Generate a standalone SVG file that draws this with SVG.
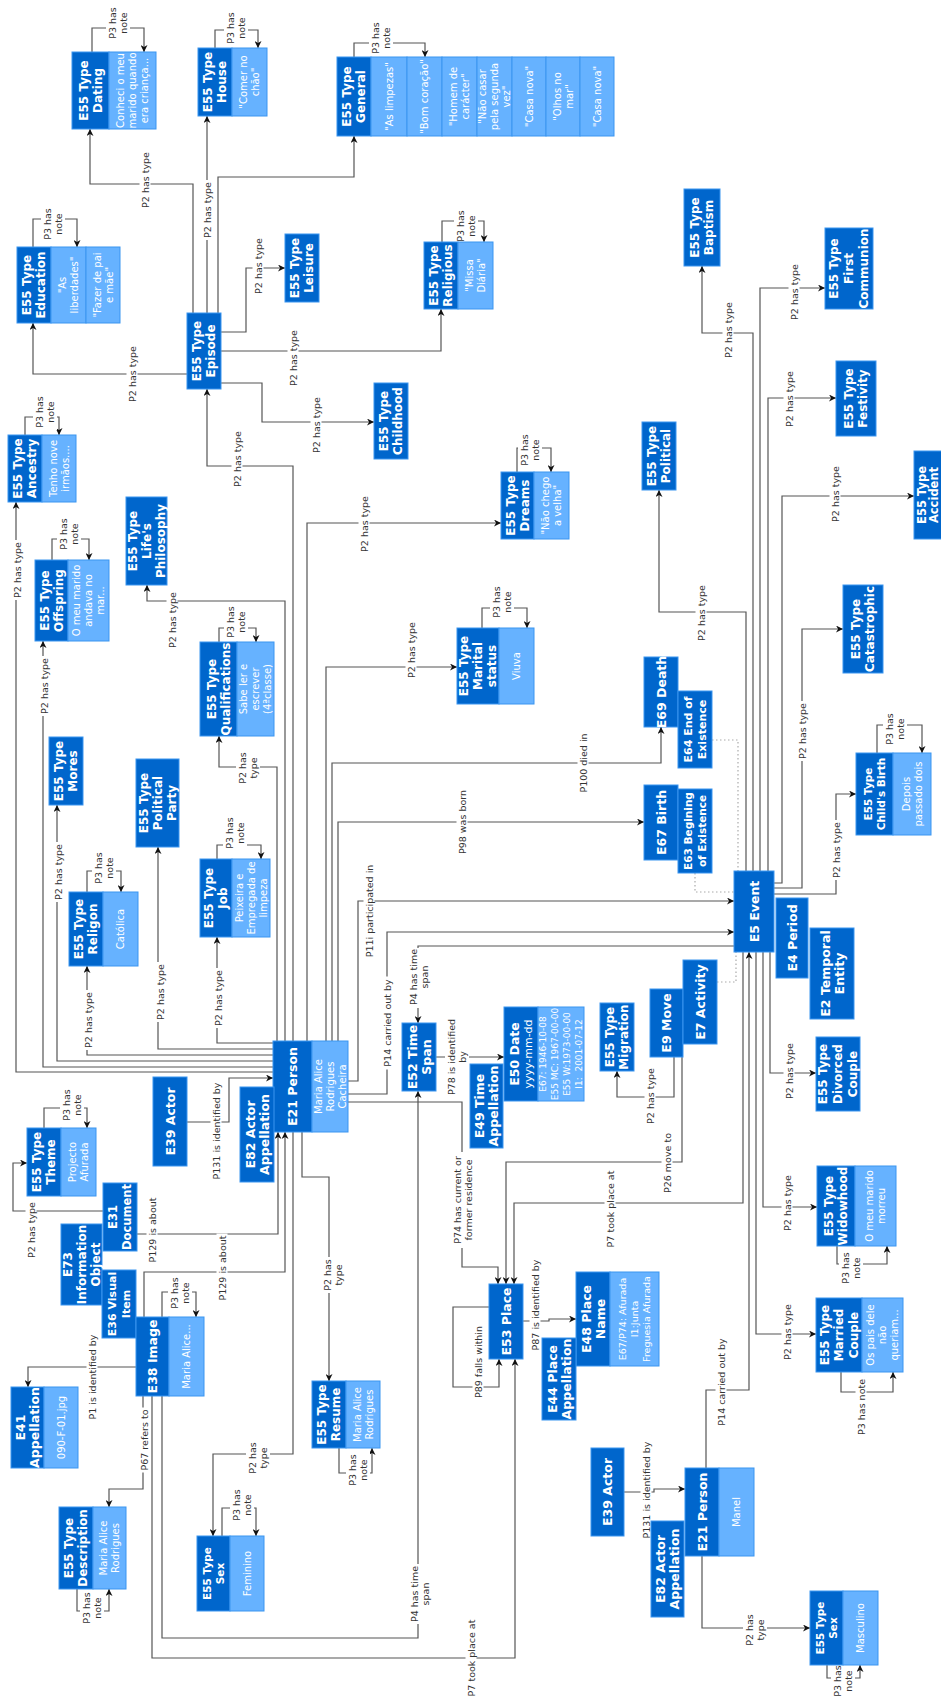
<svg xmlns="http://www.w3.org/2000/svg" width="941" height="1699" viewBox="0 0 941 1699">
<defs>
<marker id="a" viewBox="0 0 10 10" refX="10" refY="5" markerWidth="7" markerHeight="7" orient="auto" markerUnits="userSpaceOnUse"><path d="M0,0 L10,5 L0,10 L3,5 z" fill="#111"/></marker>
<style>
.d{fill:#0066cc;stroke:#3b95f0;stroke-width:1}
.n{fill:#66b2ff;stroke:#3b95f0;stroke-width:1}
text{font-family:"DejaVu Sans","Liberation Sans",sans-serif;text-anchor:middle;dominant-baseline:central}
.t{font-weight:bold;font-size:12px;fill:#fff}
.tb{font-weight:bold;font-size:12.5px;fill:#fff}
.ts{font-weight:bold;font-size:10.5px;fill:#fff}
.tm{font-weight:bold;font-size:11px;fill:#fff}
.tx{font-weight:bold;font-size:11.5px;fill:#fff}
.v{font-size:10px;fill:#fff}
.v11{font-size:11px;fill:#fff}
.vs{font-size:9px;fill:#fff}
.vm{font-size:9.5px;fill:#fff}
.e{fill:none;stroke:#555;stroke-width:1.2;marker-end:url(#a)}
.dt{fill:none;stroke:#aaa;stroke-width:1.2;stroke-dasharray:1.5 2.5}
.lb{fill:#fff}
.l{font-size:9.5px;fill:#333}
</style>
</defs>
<rect width="941" height="1699" fill="#fff"/>
<g id="connectors">
<path class="e" d="M92 52 V28 H144 V52"/>
<path class="e" d="M215 48 V30 H258 V48"/>
<path class="e" d="M33 247 V219 H77 V247"/>
<path class="e" d="M354 57 V43 H425 V57"/>
<path class="e" d="M442 242 V221 H484 V242"/>
<path class="e" d="M877 753 V725 H922 V753"/>
<path class="e" d="M837 1246 V1264 H887 V1246"/>
<path class="e" d="M44 1128 V1108 H87 V1128"/>
<path class="e" d="M162 1317 V1292 H196 V1317"/>
<path class="e" d="M77 1589 V1611 H109 V1589"/>
<path class="e" d="M222 1536 V1508 H256 V1536"/>
<path class="e" d="M339 1448 V1473 H372 V1448"/>
<path class="e" d="M827 1665 V1678 H860 V1665"/>
<path class="e" d="M841 1372 V1392 H893 V1372"/>
<path class="e" d="M482 628 V608 H527 V628"/>
<path class="e" d="M517 472 V448 H551 V472"/>
<path class="e" d="M25 435 V417 H59 V435"/>
<path class="e" d="M52 560 V539 H89 V560"/>
<path class="e" d="M219 642 V628 H256 V642"/>
<path class="e" d="M87 892 V871 H121 V892"/>
<path class="e" d="M217 859 V845 H261 V859"/>
<path class="e" d="M187 374 H33 V323"/>
<path class="e" d="M193 313 V184 H90 V129"/>
<path class="e" d="M207 313 V116"/>
<path class="e" d="M218 313 V177 H354 V136"/>
<path class="e" d="M221 332 H246 V268 H285"/>
<path class="e" d="M221 351 H441 V309"/>
<path class="e" d="M221 383 H262 V422 H374"/>
<path class="e" d="M293 1041 V466 H207 V389"/>
<path class="e" d="M277 1041 V767 H219 V736"/>
<path class="e" d="M285 1041 V601 H147 V585"/>
<path class="e" d="M307 1041 V523 H501"/>
<path class="e" d="M326 1041 V667 H457"/>
<path class="e" d="M332 1041 V763 H661 V727"/>
<path class="e" d="M338 1041 V822 H644"/>
<path class="e" d="M273 1043 H217 V937"/>
<path class="e" d="M273 1049 H158 V847"/>
<path class="e" d="M273 1055 H87 V966"/>
<path class="e" d="M273 1061 H57 V805"/>
<path class="e" d="M273 1067 H43 V641"/>
<path class="e" d="M273 1072 H16 V502"/>
<path class="e" d="M187 1122 H229 V1078 H273"/>
<path class="e" d="M137 1234 H278 V1132"/>
<path class="e" d="M103 1211 H13 V1163 H27"/>
<path class="e" d="M144 1317 V1272 H285 V1132"/>
<path class="e" d="M293 1132 V1454 H213 V1536"/>
<path class="e" d="M302 1132 V1177 H329 V1381"/>
<path class="e" d="M136 1367 H28 V1387"/>
<path class="e" d="M143 1396 V1489 H109 V1507"/>
<path class="e" d="M152 1396 V1658 H515 V1359"/>
<path class="e" d="M162 1396 V1638 H418 V1091"/>
<path class="e" d="M348 1081 H358 V901 H734"/>
<path class="e" d="M348 1094 H387 V932 H734"/>
<path class="e" d="M734 946 H418 V1023"/>
<path class="e" d="M436 1057 H504"/>
<path class="e" d="M348 1102 H462 V1267 H498 V1284"/>
<path class="e" d="M674 1057 V1097 H617 V1071"/>
<path class="e" d="M682 1057 V1162 H506 V1284"/>
<path class="e" d="M743 952 V1203 H514 V1284"/>
<path class="e" d="M489 1307 H453 V1387 H499 V1359"/>
<path class="e" d="M523 1321 H549 V1319 H576"/>
<path class="e" d="M624 1492 H654 V1489 H685"/>
<path class="e" d="M706 1468 V1390 H749 V952"/>
<path class="e" d="M702 1556 V1628 H810"/>
<path class="e" d="M756 952 V1334 H816"/>
<path class="e" d="M763 952 V1207 H817"/>
<path class="e" d="M770 952 V1073 H816"/>
<path class="e" d="M746 871 V612 H659 V490"/>
<path class="e" d="M753 871 V333 H702 V266"/>
<path class="e" d="M760 871 V288 H825"/>
<path class="e" d="M768 871 V398 H836"/>
<path class="e" d="M774 883 H782 V496 H914"/>
<path class="e" d="M774 888 H802 V629 H843"/>
<path class="e" d="M774 894 H836 V794 H856"/>
<path class="dt" d="M712 740 H738 V871"/>
<path class="dt" d="M695 873 V892 H734"/>
<path class="dt" d="M717 982 H736 V952"/>
<g id="labels">
<rect class="lb" x="106" y="5" width="24" height="36"/><text class="l" transform="translate(112.5 23) rotate(-90)">P3 has</text><text class="l" transform="translate(123.5 23) rotate(-90)">note</text>
<rect class="lb" x="224" y="10" width="24" height="36"/><text class="l" transform="translate(230.5 28) rotate(-90)">P3 has</text><text class="l" transform="translate(241.5 28) rotate(-90)">note</text>
<rect class="lb" x="41" y="206" width="24" height="36"/><text class="l" transform="translate(47.5 224) rotate(-90)">P3 has</text><text class="l" transform="translate(58.5 224) rotate(-90)">note</text>
<rect class="lb" x="369" y="20" width="24" height="36"/><text class="l" transform="translate(375.5 38) rotate(-90)">P3 has</text><text class="l" transform="translate(386.5 38) rotate(-90)">note</text>
<rect class="lb" x="454" y="208" width="24" height="36"/><text class="l" transform="translate(460.5 226) rotate(-90)">P3 has</text><text class="l" transform="translate(471.5 226) rotate(-90)">note</text>
<rect class="lb" x="883" y="711" width="24" height="36"/><text class="l" transform="translate(889.5 729) rotate(-90)">P3 has</text><text class="l" transform="translate(900.5 729) rotate(-90)">note</text>
<rect class="lb" x="839" y="1250" width="24" height="36"/><text class="l" transform="translate(845.5 1268) rotate(-90)">P3 has</text><text class="l" transform="translate(856.5 1268) rotate(-90)">note</text>
<rect class="lb" x="60" y="1087" width="24" height="36"/><text class="l" transform="translate(66.5 1105) rotate(-90)">P3 has</text><text class="l" transform="translate(77.5 1105) rotate(-90)">note</text>
<rect class="lb" x="168" y="1275" width="24" height="36"/><text class="l" transform="translate(174.5 1293) rotate(-90)">P3 has</text><text class="l" transform="translate(185.5 1293) rotate(-90)">note</text>
<rect class="lb" x="80" y="1590" width="24" height="36"/><text class="l" transform="translate(86.5 1608) rotate(-90)">P3 has</text><text class="l" transform="translate(97.5 1608) rotate(-90)">note</text>
<rect class="lb" x="230" y="1487" width="24" height="36"/><text class="l" transform="translate(236.5 1505) rotate(-90)">P3 has</text><text class="l" transform="translate(247.5 1505) rotate(-90)">note</text>
<rect class="lb" x="346" y="1452" width="24" height="36"/><text class="l" transform="translate(352.5 1470) rotate(-90)">P3 has</text><text class="l" transform="translate(363.5 1470) rotate(-90)">note</text>
<rect class="lb" x="831" y="1664" width="24" height="35"/><text class="l" transform="translate(837.5 1681) rotate(-90)">P3 has</text><text class="l" transform="translate(848.5 1681) rotate(-90)">note</text>
<rect class="lb" x="490" y="584" width="24" height="36"/><text class="l" transform="translate(496.5 602) rotate(-90)">P3 has</text><text class="l" transform="translate(507.5 602) rotate(-90)">note</text>
<rect class="lb" x="518" y="432" width="24" height="36"/><text class="l" transform="translate(524.5 450) rotate(-90)">P3 has</text><text class="l" transform="translate(535.5 450) rotate(-90)">note</text>
<rect class="lb" x="33" y="394" width="24" height="36"/><text class="l" transform="translate(39.5 412) rotate(-90)">P3 has</text><text class="l" transform="translate(50.5 412) rotate(-90)">note</text>
<rect class="lb" x="57" y="516" width="24" height="36"/><text class="l" transform="translate(63.5 534) rotate(-90)">P3 has</text><text class="l" transform="translate(74.5 534) rotate(-90)">note</text>
<rect class="lb" x="224" y="604" width="24" height="36"/><text class="l" transform="translate(230.5 622) rotate(-90)">P3 has</text><text class="l" transform="translate(241.5 622) rotate(-90)">note</text>
<rect class="lb" x="92" y="850" width="24" height="36"/><text class="l" transform="translate(98.5 868) rotate(-90)">P3 has</text><text class="l" transform="translate(109.5 868) rotate(-90)">note</text>
<rect class="lb" x="223" y="815" width="24" height="36"/><text class="l" transform="translate(229.5 833) rotate(-90)">P3 has</text><text class="l" transform="translate(240.5 833) rotate(-90)">note</text>
<rect class="lb" x="855.5" y="1377" width="11" height="60"/><text class="l" transform="translate(861 1407) rotate(-90)">P3 has note</text>
<rect class="lb" x="126.5" y="344" width="11" height="60"/><text class="l" transform="translate(132 374) rotate(-90)">P2 has type</text>
<rect class="lb" x="139.5" y="150" width="11" height="60"/><text class="l" transform="translate(145 180) rotate(-90)">P2 has type</text>
<rect class="lb" x="201.5" y="180" width="11" height="60"/><text class="l" transform="translate(207 210) rotate(-90)">P2 has type</text>
<rect class="lb" x="252.5" y="236" width="11" height="60"/><text class="l" transform="translate(258 266) rotate(-90)">P2 has type</text>
<rect class="lb" x="287.5" y="328" width="11" height="60"/><text class="l" transform="translate(293 358) rotate(-90)">P2 has type</text>
<rect class="lb" x="310.5" y="395" width="11" height="60"/><text class="l" transform="translate(316 425) rotate(-90)">P2 has type</text>
<rect class="lb" x="231.5" y="429" width="11" height="60"/><text class="l" transform="translate(237 459) rotate(-90)">P2 has type</text>
<rect class="lb" x="166.5" y="590" width="11" height="60"/><text class="l" transform="translate(172 620) rotate(-90)">P2 has type</text>
<rect class="lb" x="358.5" y="494" width="11" height="60"/><text class="l" transform="translate(364 524) rotate(-90)">P2 has type</text>
<rect class="lb" x="405.5" y="620" width="11" height="60"/><text class="l" transform="translate(411 650) rotate(-90)">P2 has type</text>
<rect class="lb" x="212.5" y="968" width="11" height="60"/><text class="l" transform="translate(218 998) rotate(-90)">P2 has type</text>
<rect class="lb" x="154.5" y="962" width="11" height="60"/><text class="l" transform="translate(160 992) rotate(-90)">P2 has type</text>
<rect class="lb" x="82.5" y="990" width="11" height="60"/><text class="l" transform="translate(88 1020) rotate(-90)">P2 has type</text>
<rect class="lb" x="52.5" y="842" width="11" height="60"/><text class="l" transform="translate(58 872) rotate(-90)">P2 has type</text>
<rect class="lb" x="38.5" y="656" width="11" height="60"/><text class="l" transform="translate(44 686) rotate(-90)">P2 has type</text>
<rect class="lb" x="11.5" y="540" width="11" height="60"/><text class="l" transform="translate(17 570) rotate(-90)">P2 has type</text>
<rect class="lb" x="25.5" y="1200" width="11" height="60"/><text class="l" transform="translate(31 1230) rotate(-90)">P2 has type</text>
<rect class="lb" x="644.5" y="1066" width="11" height="60"/><text class="l" transform="translate(650 1096) rotate(-90)">P2 has type</text>
<rect class="lb" x="781.5" y="1302" width="11" height="60"/><text class="l" transform="translate(787 1332) rotate(-90)">P2 has type</text>
<rect class="lb" x="781.5" y="1173" width="11" height="60"/><text class="l" transform="translate(787 1203) rotate(-90)">P2 has type</text>
<rect class="lb" x="783.5" y="1041" width="11" height="60"/><text class="l" transform="translate(789 1071) rotate(-90)">P2 has type</text>
<rect class="lb" x="695.5" y="583" width="11" height="60"/><text class="l" transform="translate(701 613) rotate(-90)">P2 has type</text>
<rect class="lb" x="722.5" y="300" width="11" height="60"/><text class="l" transform="translate(728 330) rotate(-90)">P2 has type</text>
<rect class="lb" x="788.5" y="262" width="11" height="60"/><text class="l" transform="translate(794 292) rotate(-90)">P2 has type</text>
<rect class="lb" x="783.5" y="369" width="11" height="60"/><text class="l" transform="translate(789 399) rotate(-90)">P2 has type</text>
<rect class="lb" x="829.5" y="464" width="11" height="60"/><text class="l" transform="translate(835 494) rotate(-90)">P2 has type</text>
<rect class="lb" x="796.5" y="701" width="11" height="60"/><text class="l" transform="translate(802 731) rotate(-90)">P2 has type</text>
<rect class="lb" x="830.5" y="820" width="11" height="60"/><text class="l" transform="translate(836 850) rotate(-90)">P2 has type</text>
<rect class="lb" x="236" y="750" width="24" height="36"/><text class="l" transform="translate(242.5 768) rotate(-90)">P2 has</text><text class="l" transform="translate(253.5 768) rotate(-90)">type</text>
<rect class="lb" x="246" y="1440" width="24" height="36"/><text class="l" transform="translate(252.5 1458) rotate(-90)">P2 has</text><text class="l" transform="translate(263.5 1458) rotate(-90)">type</text>
<rect class="lb" x="321" y="1257" width="24" height="36"/><text class="l" transform="translate(327.5 1275) rotate(-90)">P2 has</text><text class="l" transform="translate(338.5 1275) rotate(-90)">type</text>
<rect class="lb" x="743" y="1612" width="24" height="36"/><text class="l" transform="translate(749.5 1630) rotate(-90)">P2 has</text><text class="l" transform="translate(760.5 1630) rotate(-90)">type</text>
<rect class="lb" x="577.5" y="731" width="11" height="64"/><text class="l" transform="translate(583 763) rotate(-90)">P100 died in</text>
<rect class="lb" x="456.5" y="788" width="11" height="68"/><text class="l" transform="translate(462 822) rotate(-90)">P98 was born</text>
<rect class="lb" x="210.5" y="1080.5" width="11" height="101"/><text class="l" transform="translate(216 1131) rotate(-90)">P131 is identified by</text>
<rect class="lb" x="146.5" y="1195.5" width="11" height="69"/><text class="l" transform="translate(152 1230) rotate(-90)">P129 is about</text>
<rect class="lb" x="216.5" y="1233.5" width="11" height="69"/><text class="l" transform="translate(222 1268) rotate(-90)">P129 is about</text>
<rect class="lb" x="86.5" y="1332.5" width="11" height="89"/><text class="l" transform="translate(92 1377) rotate(-90)">P1 is identified by</text>
<rect class="lb" x="138.5" y="1407.5" width="11" height="65"/><text class="l" transform="translate(144 1440) rotate(-90)">P67 refers to</text>
<rect class="lb" x="465.5" y="1619.5" width="11" height="79"/><text class="l" transform="translate(471 1658) rotate(-90)">P7 took place at</text>
<rect class="lb" x="408" y="1564" width="24" height="60"/><text class="l" transform="translate(414.5 1594) rotate(-90)">P4 has time</text><text class="l" transform="translate(425.5 1594) rotate(-90)">span</text>
<rect class="lb" x="363.5" y="862.5" width="11" height="97"/><text class="l" transform="translate(369 911) rotate(-90)">P11i participated in</text>
<rect class="lb" x="381.5" y="976.5" width="11" height="93"/><text class="l" transform="translate(387 1023) rotate(-90)">P14 carried out by</text>
<rect class="lb" x="407" y="948" width="24" height="60"/><text class="l" transform="translate(413.5 977) rotate(-90)">P4 has time</text><text class="l" transform="translate(424.5 977) rotate(-90)">span</text>
<rect class="lb" x="445" y="1015.5" width="24" height="83"/><text class="l" transform="translate(451.5 1057) rotate(-90)">P78 is identified</text><text class="l" transform="translate(462.5 1057) rotate(-90)">by</text>
<rect class="lb" x="451" y="1152" width="24" height="96"/><text class="l" transform="translate(457.5 1200) rotate(-90)">P74 has current or</text><text class="l" transform="translate(468.5 1200) rotate(-90)">former residence</text>
<rect class="lb" x="661.5" y="1131" width="11" height="64"/><text class="l" transform="translate(667 1163) rotate(-90)">P26 move to</text>
<rect class="lb" x="604.5" y="1168.5" width="11" height="81"/><text class="l" transform="translate(610 1209) rotate(-90)">P7 took place at</text>
<rect class="lb" x="472.5" y="1323" width="11" height="78"/><text class="l" transform="translate(478 1362) rotate(-90)">P89 falls within</text>
<rect class="lb" x="529.5" y="1257.5" width="11" height="95"/><text class="l" transform="translate(535 1305) rotate(-90)">P87 is identified by</text>
<rect class="lb" x="640.5" y="1439.5" width="11" height="101"/><text class="l" transform="translate(646 1490) rotate(-90)">P131 is identified by</text>
<rect class="lb" x="715.5" y="1335.5" width="11" height="93"/><text class="l" transform="translate(721 1382) rotate(-90)">P14 carried out by</text>
</g>
</g>
<g id="n-dating"><rect class="d" x="72" y="52" width="37" height="77"/><rect class="n" x="109" y="52" width="47" height="77"/>
<text class="t" transform="translate(83.5 90.5) rotate(-90)">E55 Type</text><text class="t" transform="translate(97.5 90.5) rotate(-90)">Dating</text>
<text class="v" transform="translate(120.5 90.5) rotate(-90)">Conheci o meu</text><text class="v" transform="translate(132.5 90.5) rotate(-90)">marido quando</text><text class="v" transform="translate(144.5 90.5) rotate(-90)">era criança...</text></g>
<g id="n-house"><rect class="d" x="198" y="48" width="34" height="68"/><rect class="n" x="232" y="48" width="35" height="68"/>
<text class="t" transform="translate(208 82) rotate(-90)">E55 Type</text><text class="t" transform="translate(222 82) rotate(-90)">House</text>
<text class="v" transform="translate(243.5 82) rotate(-90)">"Comer no</text><text class="v" transform="translate(255.5 82) rotate(-90)">chão"</text></g>
<g id="n-education"><rect class="d" x="17" y="247" width="34" height="76"/><rect class="n" x="51" y="247" width="35" height="76"/><rect class="n" x="86" y="247" width="34" height="76"/>
<text class="t" transform="translate(27 285) rotate(-90)">E55 Type</text><text class="t" transform="translate(41 285) rotate(-90)">Education</text>
<text class="v" transform="translate(62.5 285) rotate(-90)">"As</text><text class="v" transform="translate(74.5 285) rotate(-90)">liberdades"</text>
<text class="v" transform="translate(97 285) rotate(-90)">"Fazer de pai</text><text class="v" transform="translate(109 285) rotate(-90)">e mãe"</text></g>
<g id="n-episode"><rect class="d" x="187" y="313" width="34" height="76"/>
<text class="t" transform="translate(197 351) rotate(-90)">E55 Type</text><text class="t" transform="translate(211 351) rotate(-90)">Episode</text></g>
<g id="n-leisure"><rect class="d" x="285" y="234" width="34" height="68"/>
<text class="t" transform="translate(295 268) rotate(-90)">E55 Type</text><text class="t" transform="translate(309 268) rotate(-90)">Leisure</text></g>
<g id="n-general"><rect class="d" x="337" y="57" width="34" height="79"/>
<rect class="n" x="371" y="57" width="36" height="79"/><rect class="n" x="407" y="57" width="35" height="79"/><rect class="n" x="442" y="57" width="35" height="79"/><rect class="n" x="477" y="57" width="35" height="79"/><rect class="n" x="512" y="57" width="34" height="79"/><rect class="n" x="546" y="57" width="34" height="79"/><rect class="n" x="580" y="57" width="34" height="79"/>
<text class="t" transform="translate(347 96.5) rotate(-90)">E55 Type</text><text class="t" transform="translate(361 96.5) rotate(-90)">General</text>
<text class="v" transform="translate(389 96.5) rotate(-90)">"As limpezas"</text>
<text class="v" transform="translate(424.5 96.5) rotate(-90)">"Bom coração"</text>
<text class="v" transform="translate(453.5 96.5) rotate(-90)">"Homem de</text><text class="v" transform="translate(465.5 96.5) rotate(-90)">carácter"</text>
<text class="v" transform="translate(482.5 96.5) rotate(-90)">"Não casar</text><text class="v" transform="translate(494.5 96.5) rotate(-90)">pela segunda</text><text class="v" transform="translate(506.5 96.5) rotate(-90)">vez"</text>
<text class="v" transform="translate(529 96.5) rotate(-90)">"Casa nova"</text>
<text class="v" transform="translate(557 96.5) rotate(-90)">"Olhos no</text><text class="v" transform="translate(569 96.5) rotate(-90)">mar"</text>
<text class="v" transform="translate(597 96.5) rotate(-90)">"Casa nova"</text></g>
<g id="n-religious"><rect class="d" x="424" y="242" width="34" height="67"/><rect class="n" x="458" y="242" width="35" height="67"/>
<text class="t" transform="translate(434 275.5) rotate(-90)">E55 Type</text><text class="t" transform="translate(448 275.5) rotate(-90)">Religious</text>
<text class="v" transform="translate(469.5 275.5) rotate(-90)">"Missa</text><text class="v" transform="translate(481.5 275.5) rotate(-90)">Diária"</text></g>
<g id="n-childhood"><rect class="d" x="374" y="383" width="34" height="76"/>
<text class="t" transform="translate(384 421) rotate(-90)">E55 Type</text><text class="t" transform="translate(398 421) rotate(-90)">Childhood</text></g>
<g id="n-baptism"><rect class="d" x="684" y="189" width="36" height="77"/>
<text class="t" transform="translate(695 227.5) rotate(-90)">E55 Type</text><text class="t" transform="translate(709 227.5) rotate(-90)">Baptism</text></g>
<g id="n-firstcommunion"><rect class="d" x="825" y="228" width="48" height="81"/>
<text class="t" transform="translate(834 268.5) rotate(-90)">E55 Type</text><text class="t" transform="translate(849 268.5) rotate(-90)">First</text><text class="t" transform="translate(864 268.5) rotate(-90)">Communion</text></g>
<g id="n-festivity"><rect class="d" x="836" y="361" width="40" height="75"/>
<text class="t" transform="translate(849 398.5) rotate(-90)">E55 Type</text><text class="t" transform="translate(863 398.5) rotate(-90)">Festivity</text></g>
<g id="n-accident"><rect class="d" x="914" y="451" width="34" height="88"/>
<text class="tx" transform="translate(921.5 495) rotate(-90)">E55 Type</text><text class="tx" transform="translate(933.5 495) rotate(-90)">Accident</text></g>
<g id="n-political"><rect class="d" x="642" y="422" width="34" height="68"/>
<text class="t" transform="translate(652 456) rotate(-90)">E55 Type</text><text class="t" transform="translate(666 456) rotate(-90)">Political</text></g>
<g id="n-catastrophic"><rect class="d" x="843" y="585" width="40" height="88"/>
<text class="t" transform="translate(856 629) rotate(-90)">E55 Type</text><text class="t" transform="translate(870 629) rotate(-90)">Catastrophic</text></g>
<g id="n-childsbirth"><rect class="d" x="856" y="753" width="37" height="82"/><rect class="n" x="893" y="753" width="38" height="82"/>
<text class="ts" transform="translate(868 794) rotate(-90)">E55 Type</text><text class="ts" transform="translate(881 794) rotate(-90)">Child's Birth</text>
<text class="v" transform="translate(906 794) rotate(-90)">Depois</text><text class="v" transform="translate(918 794) rotate(-90)">passado dois</text></g>
<g id="n-e69"><rect class="d" x="644" y="657" width="34" height="70"/><text class="tb" transform="translate(661 692) rotate(-90)">E69 Death</text></g>
<g id="n-e64"><rect class="d" x="678" y="691" width="34" height="77"/>
<text class="tm" transform="translate(688 729.5) rotate(-90)">E64 End of</text><text class="tm" transform="translate(702 729.5) rotate(-90)">Existence</text></g>
<g id="n-e67"><rect class="d" x="644" y="785" width="34" height="75"/><text class="tb" transform="translate(661 822.5) rotate(-90)">E67 Birth</text></g>
<g id="n-e63"><rect class="d" x="678" y="789" width="34" height="84"/>
<text class="ts" transform="translate(688 831) rotate(-90)">E63 Begining</text><text class="ts" transform="translate(702 831) rotate(-90)">of Existence</text></g>
<g id="n-e5"><rect class="d" x="734" y="871" width="40" height="81"/><text class="tb" transform="translate(754 911.5) rotate(-90)">E5 Event</text></g>
<g id="n-e4"><rect class="d" x="776" y="898" width="32" height="80"/><text class="tb" transform="translate(792 938) rotate(-90)">E4 Period</text></g>
<g id="n-e2"><rect class="d" x="810" y="928" width="44" height="91"/>
<text class="tb" transform="translate(825 973.5) rotate(-90)">E2 Temporal</text><text class="tb" transform="translate(839 973.5) rotate(-90)">Entity</text></g>
<g id="n-divorced"><rect class="d" x="816" y="1037" width="44" height="74"/>
<text class="t" transform="translate(823 1074) rotate(-90)">E55 Type</text><text class="t" transform="translate(838 1074) rotate(-90)">Divorced</text><text class="t" transform="translate(853 1074) rotate(-90)">Couple</text></g>
<g id="n-widowhood"><rect class="d" x="817" y="1166" width="38" height="80"/><rect class="n" x="855" y="1166" width="41" height="80"/>
<text class="t" transform="translate(829 1206) rotate(-90)">E55 Type</text><text class="t" transform="translate(843 1206) rotate(-90)">Widowhood</text>
<text class="v" transform="translate(869.5 1206) rotate(-90)">O meu marido</text><text class="v" transform="translate(881.5 1206) rotate(-90)">morreu</text></g>
<g id="n-e9"><rect class="d" x="650" y="989" width="33" height="68"/><text class="tb" transform="translate(666.5 1023) rotate(-90)">E9 Move</text></g>
<g id="n-e7"><rect class="d" x="683" y="960" width="34" height="84"/><text class="tb" transform="translate(700 1002) rotate(-90)">E7 Activity</text></g>
<g id="n-migration"><rect class="d" x="600" y="1003" width="34" height="68"/>
<text class="t" transform="translate(610 1037) rotate(-90)">E55 Type</text><text class="t" transform="translate(624 1037) rotate(-90)">Migration</text></g>
<g id="n-e50"><rect class="d" x="504" y="1007" width="34" height="94"/><rect class="n" x="538" y="1007" width="46" height="94"/>
<text class="tb" transform="translate(514 1054) rotate(-90)">E50 Date</text><text class="v11" transform="translate(528 1054) rotate(-90)">yyyy-mm-dd</text>
<text class="vs" transform="translate(543 1054) rotate(-90)">E67: 1946-10-08</text><text class="vs" transform="translate(555 1054) rotate(-90)">E55 MC: 1967-00-00</text><text class="vs" transform="translate(567 1054) rotate(-90)">E55 W:1973-00-00</text><text class="vs" transform="translate(579 1054) rotate(-90)">I1:&#160; 2001-07-12</text></g>
<g id="n-e49"><rect class="d" x="470" y="1064" width="33" height="84"/>
<text class="tb" transform="translate(479.5 1106) rotate(-90)">E49 Time</text><text class="tb" transform="translate(493.5 1106) rotate(-90)">Appellation</text></g>
<g id="n-e52"><rect class="d" x="402" y="1023" width="34" height="68"/>
<text class="tb" transform="translate(412 1057) rotate(-90)">E52 Time</text><text class="tb" transform="translate(426 1057) rotate(-90)">Span</text></g>
<g id="n-person1"><rect class="d" x="273" y="1041" width="39" height="91"/><rect class="n" x="312" y="1041" width="36" height="91"/>
<text class="tb" transform="translate(292.5 1086.5) rotate(-90)">E21 Person</text>
<text class="v" transform="translate(318 1086.5) rotate(-90)">Maria Alice</text><text class="v" transform="translate(330 1086.5) rotate(-90)">Rodrigues</text><text class="v" transform="translate(342 1086.5) rotate(-90)">Cacheira</text></g>
<g id="n-actor1"><rect class="d" x="153" y="1077" width="34" height="89"/><text class="tb" transform="translate(170 1121.5) rotate(-90)">E39 Actor</text></g>
<g id="n-actorapp1"><rect class="d" x="240" y="1087" width="34" height="95"/>
<text class="tb" transform="translate(250 1134.5) rotate(-90)">E82 Actor</text><text class="tb" transform="translate(264 1134.5) rotate(-90)">Appellation</text></g>
<g id="n-theme"><rect class="d" x="27" y="1128" width="34" height="68"/><rect class="n" x="61" y="1128" width="35" height="68"/>
<text class="t" transform="translate(37 1162) rotate(-90)">E55 Type</text><text class="t" transform="translate(51 1162) rotate(-90)">Theme</text>
<text class="v" transform="translate(72.5 1162) rotate(-90)">Projecto</text><text class="v" transform="translate(84.5 1162) rotate(-90)">Afurada</text></g>
<g id="n-e31"><rect class="d" x="103" y="1183" width="34" height="68"/>
<text class="tx" transform="translate(113 1217) rotate(-90)">E31</text><text class="tx" transform="translate(127 1217) rotate(-90)">Document</text></g>
<g id="n-e73"><rect class="d" x="61" y="1224" width="41" height="81"/>
<text class="t" transform="translate(67.5 1264.5) rotate(-90)">E73</text><text class="t" transform="translate(81.5 1264.5) rotate(-90)">Information</text><text class="t" transform="translate(95.5 1264.5) rotate(-90)">Object</text></g>
<g id="n-e36"><rect class="d" x="102" y="1270" width="34" height="68"/>
<text class="tm" transform="translate(112 1304) rotate(-90)">E36 Visual</text><text class="tm" transform="translate(126 1304) rotate(-90)">Item</text></g>
<g id="n-e38"><rect class="d" x="136" y="1317" width="33" height="79"/><rect class="n" x="169" y="1317" width="35" height="79"/>
<text class="tb" transform="translate(152.5 1356.5) rotate(-90)">E38 Image</text><text class="v" transform="translate(186.5 1356.5) rotate(-90)">Maria Alice...</text></g>
<g id="n-e41"><rect class="d" x="11" y="1387" width="33" height="81"/><rect class="n" x="44" y="1387" width="34" height="81"/>
<text class="tb" transform="translate(20.5 1427.5) rotate(-90)">E41</text><text class="tb" transform="translate(34.5 1427.5) rotate(-90)">Appellation</text>
<text class="v" transform="translate(61 1427.5) rotate(-90)">090-F-01.jpg</text></g>
<g id="n-description"><rect class="d" x="59" y="1507" width="34" height="82"/><rect class="n" x="93" y="1507" width="33" height="82"/>
<text class="t" transform="translate(69 1548) rotate(-90)">E55 Type</text><text class="t" transform="translate(83 1548) rotate(-90)">Description</text>
<text class="v" transform="translate(103.5 1548) rotate(-90)">Maria Alice</text><text class="v" transform="translate(115.5 1548) rotate(-90)">Rodrigues</text></g>
<g id="n-sexf"><rect class="d" x="197" y="1536" width="33" height="75"/><rect class="n" x="230" y="1536" width="34" height="75"/>
<text class="ts" transform="translate(207 1573.5) rotate(-90)">E55 Type</text><text class="ts" transform="translate(220 1573.5) rotate(-90)">Sex</text>
<text class="v" transform="translate(247 1573.5) rotate(-90)">Feminino</text></g>
<g id="n-resume"><rect class="d" x="312" y="1381" width="34" height="67"/><rect class="n" x="346" y="1381" width="34" height="67"/>
<text class="t" transform="translate(322 1414.5) rotate(-90)">E55 Type</text><text class="t" transform="translate(336 1414.5) rotate(-90)">Resume</text>
<text class="v" transform="translate(357 1414.5) rotate(-90)">Maria Alice</text><text class="v" transform="translate(369 1414.5) rotate(-90)">Rodrigues</text></g>
<g id="n-e53"><rect class="d" x="489" y="1284" width="34" height="75"/><text class="tb" transform="translate(506 1321.5) rotate(-90)">E53 Place</text></g>
<g id="n-e48"><rect class="d" x="576" y="1272" width="34" height="94"/><rect class="n" x="610" y="1272" width="49" height="94"/>
<text class="tb" transform="translate(586 1319) rotate(-90)">E48 Place</text><text class="tb" transform="translate(600 1319) rotate(-90)">Name</text>
<text class="vm" transform="translate(622.5 1319) rotate(-90)">E67/P74: Afurada</text><text class="vm" transform="translate(634.5 1319) rotate(-90)">I1:Junta</text><text class="vm" transform="translate(646.5 1319) rotate(-90)">Freguesia Afurada</text></g>
<g id="n-e44"><rect class="d" x="542" y="1338" width="34" height="82"/>
<text class="tb" transform="translate(552 1379) rotate(-90)">E44 Place</text><text class="tb" transform="translate(566 1379) rotate(-90)">Appellation</text></g>
<g id="n-actor2"><rect class="d" x="591" y="1448" width="33" height="88"/><text class="tb" transform="translate(607.5 1492) rotate(-90)">E39 Actor</text></g>
<g id="n-person2"><rect class="d" x="685" y="1468" width="34" height="88"/><rect class="n" x="719" y="1468" width="35" height="88"/>
<text class="tb" transform="translate(702 1512) rotate(-90)">E21 Person</text><text class="v" transform="translate(736.5 1512) rotate(-90)">Manel</text></g>
<g id="n-actorapp2"><rect class="d" x="651" y="1521" width="33" height="96"/>
<text class="tb" transform="translate(660.5 1569) rotate(-90)">E82 Actor</text><text class="tb" transform="translate(674.5 1569) rotate(-90)">Appellation</text></g>
<g id="n-sexm"><rect class="d" x="810" y="1591" width="33" height="74"/><rect class="n" x="843" y="1591" width="35" height="74"/>
<text class="ts" transform="translate(820 1628) rotate(-90)">E55 Type</text><text class="ts" transform="translate(833 1628) rotate(-90)">Sex</text>
<text class="v" transform="translate(860.5 1628) rotate(-90)">Masculino</text></g>
<g id="n-married"><rect class="d" x="816" y="1298" width="46" height="74"/><rect class="n" x="862" y="1298" width="41" height="74"/>
<text class="t" transform="translate(824.5 1335) rotate(-90)">E55 Type</text><text class="t" transform="translate(839 1335) rotate(-90)">Married</text><text class="t" transform="translate(853.5 1335) rotate(-90)">Couple</text>
<text class="v" transform="translate(870.5 1335) rotate(-90)">Os pais dele</text><text class="v" transform="translate(882.5 1335) rotate(-90)">não</text><text class="v" transform="translate(894.5 1335) rotate(-90)">queriam...</text></g>
<g id="n-marital"><rect class="d" x="457" y="628" width="42" height="76"/><rect class="n" x="499" y="628" width="35" height="76"/>
<text class="t" transform="translate(464 666) rotate(-90)">E55 Type</text><text class="t" transform="translate(478 666) rotate(-90)">Marital</text><text class="t" transform="translate(492 666) rotate(-90)">status</text>
<text class="v" transform="translate(516.5 666) rotate(-90)">Viuva</text></g>
<g id="n-dreams"><rect class="d" x="501" y="472" width="33" height="67"/><rect class="n" x="534" y="472" width="35" height="67"/>
<text class="t" transform="translate(510.5 505.5) rotate(-90)">E55 Type</text><text class="t" transform="translate(524.5 505.5) rotate(-90)">Dreams</text>
<text class="v" transform="translate(545.5 505.5) rotate(-90)">"Não chego</text><text class="v" transform="translate(557.5 505.5) rotate(-90)">a velha"</text></g>
<g id="n-ancestry"><rect class="d" x="8" y="435" width="34" height="67"/><rect class="n" x="42" y="435" width="34" height="67"/>
<text class="t" transform="translate(18 468.5) rotate(-90)">E55 Type</text><text class="t" transform="translate(32 468.5) rotate(-90)">Ancestry</text>
<text class="v" transform="translate(53 468.5) rotate(-90)">Tenho nove</text><text class="v" transform="translate(65 468.5) rotate(-90)">irmãos....</text></g>
<g id="n-offspring"><rect class="d" x="35" y="560" width="33" height="81"/><rect class="n" x="68" y="560" width="41" height="81"/>
<text class="t" transform="translate(44.5 600.5) rotate(-90)">E55 Type</text><text class="t" transform="translate(58.5 600.5) rotate(-90)">Offspring</text>
<text class="v" transform="translate(76.5 600.5) rotate(-90)">O meu marido</text><text class="v" transform="translate(88.5 600.5) rotate(-90)">andava no</text><text class="v" transform="translate(100.5 600.5) rotate(-90)">mar...</text></g>
<g id="n-philosophy"><rect class="d" x="126" y="497" width="41" height="88"/>
<text class="t" transform="translate(132.5 541) rotate(-90)">E55 Type</text><text class="t" transform="translate(146.5 541) rotate(-90)">Life's</text><text class="t" transform="translate(160.5 541) rotate(-90)">Philosophy</text></g>
<g id="n-qualifications"><rect class="d" x="200" y="642" width="37" height="94"/><rect class="n" x="237" y="642" width="37" height="94"/>
<text class="t" transform="translate(211.5 689) rotate(-90)">E55 Type</text><text class="t" transform="translate(225.5 689) rotate(-90)">Qualifications</text>
<text class="v" transform="translate(243.5 689) rotate(-90)">Sabe ler e</text><text class="v" transform="translate(255.5 689) rotate(-90)">escrever</text><text class="v" transform="translate(267.5 689) rotate(-90)">(4ªclasse)</text></g>
<g id="n-mores"><rect class="d" x="49" y="737" width="34" height="68"/>
<text class="t" transform="translate(59 771) rotate(-90)">E55 Type</text><text class="t" transform="translate(73 771) rotate(-90)">Mores</text></g>
<g id="n-politicalparty"><rect class="d" x="136" y="759" width="43" height="88"/>
<text class="t" transform="translate(143.5 803) rotate(-90)">E55 Type</text><text class="t" transform="translate(157.5 803) rotate(-90)">Political</text><text class="t" transform="translate(171.5 803) rotate(-90)">Party</text></g>
<g id="n-religon"><rect class="d" x="69" y="892" width="34" height="74"/><rect class="n" x="103" y="892" width="35" height="74"/>
<text class="t" transform="translate(79 929) rotate(-90)">E55 Type</text><text class="t" transform="translate(93 929) rotate(-90)">Religon</text>
<text class="v" transform="translate(120.5 929) rotate(-90)">Católica</text></g>
<g id="n-job"><rect class="d" x="200" y="859" width="32" height="78"/><rect class="n" x="232" y="859" width="38" height="78"/>
<text class="t" transform="translate(209 898) rotate(-90)">E55 Type</text><text class="t" transform="translate(223 898) rotate(-90)">Job</text>
<text class="v" transform="translate(239 898) rotate(-90)">Peixeira e</text><text class="v" transform="translate(251 898) rotate(-90)">Empregada de</text><text class="v" transform="translate(263 898) rotate(-90)">limpeza</text></g>
</svg>
